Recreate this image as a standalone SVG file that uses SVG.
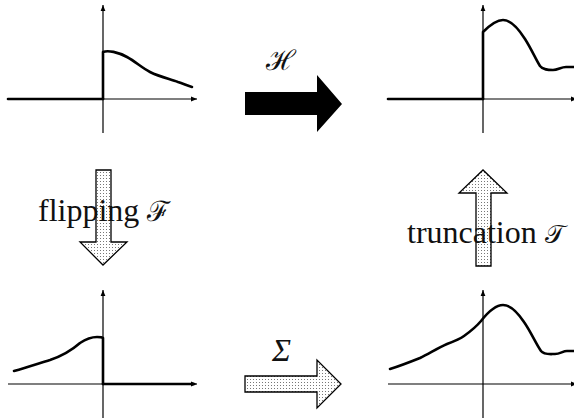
<svg xmlns="http://www.w3.org/2000/svg" width="574" height="420" viewBox="0 0 574 420">
<style>
.axis{stroke:#000;stroke-width:1.2;fill:none}
.thick{stroke:#000;stroke-width:2.6;fill:none;stroke-linejoin:round;stroke-linecap:round}
.curve{stroke:#000;stroke-width:2.6;fill:none;stroke-linejoin:round;stroke-linecap:round}
.dotted{fill:url(#dots);stroke:#000;stroke-width:1.3;stroke-linejoin:miter}
.lbl{font-family:"Liberation Serif","Times New Roman",serif;font-size:32px;fill:#111}
.math{font-family:"DejaVu Serif","Liberation Serif",serif;font-style:normal;fill:#111}
</style>
<defs>
<marker id="ah" viewBox="0 0 10 10" refX="10" refY="5" markerWidth="6" markerHeight="6" markerUnits="userSpaceOnUse" orient="auto">
<path d="M0,1 L10,5 L0,9 Z" fill="#000"/>
</marker>
<pattern id="dots" width="3" height="3" patternUnits="userSpaceOnUse">
<rect width="3" height="3" fill="#fff"/>
<rect x="1" y="1" width="1" height="1" fill="#777"/>
</pattern>
</defs>

<g id="plot-top-left">
<line class="axis" x1="8" y1="99" x2="197" y2="99" marker-end="url(#ah)"/>
<line class="axis" x1="103" y1="133" x2="103" y2="5" marker-end="url(#ah)"/>
<line class="thick" x1="8" y1="99" x2="103" y2="99"/>
<path class="curve" d="M103,99 V52 C108,50 118,52 127,57 C136,62 142,68 150,72 C160,77 170,79 178,82 C184,84 188,86 192,87"/>
</g>

<g id="plot-top-right">
<line class="axis" x1="388" y1="99" x2="577" y2="99" marker-end="url(#ah)"/>
<line class="axis" x1="483" y1="133" x2="483" y2="5" marker-end="url(#ah)"/>
<line class="thick" x1="388" y1="99" x2="483" y2="99"/>
<path class="curve" d="M483,99 V32 C489,26 496,20 503,20 C511,20 518,28 525,39 C532,50 536,60 540,66 C543,70 548,70 553,70 C558,70 561,67 566,67 C569,67 572,67 574,67"/>
</g>

<g id="plot-bottom-left">
<line class="axis" x1="8" y1="384" x2="197" y2="384" marker-end="url(#ah)"/>
<line class="axis" x1="103" y1="418" x2="103" y2="290" marker-end="url(#ah)"/>
<line class="thick" x1="103" y1="384" x2="194" y2="384"/>
<path class="curve" d="M14,371 C28,367 40,363 50,360 C62,356 72,350 80,343 C86,339 92,337 97,337 C100,337 102,337 103,338 V384"/>
</g>

<g id="plot-bottom-right">
<line class="axis" x1="388" y1="384" x2="577" y2="384" marker-end="url(#ah)"/>
<line class="axis" x1="483" y1="418" x2="483" y2="290" marker-end="url(#ah)"/>
<path class="curve" d="M390,369 C400,366 410,362 420,358 C430,353 438,348 447,344 C455,341 460,339 464,336 C471,331 476,327 481,321 C488,312 495,305 503,305 C511,305 518,313 524,322 C531,332 536,344 541,351 C544,355 550,354 555,354 C560,354 563,351 567,351 C570,351 572,351 574,351"/>
</g>

<g id="connectors">
<g id="arrow-H">
<path d="M245,92 H317 V75 L342,104 L317,132 V115 H245 Z" fill="#000"/>
<text class="math" x="266" y="70" font-size="28">ℋ</text>
</g>
<g id="arrow-flipping">
<path class="dotted" d="M96,170 H111 V242 H127 L103,265 L80,242 H96 Z"/>
<text class="lbl" x="38" y="221">flipping <tspan class="math" font-size="28">ℱ</tspan></text>
</g>
<g id="arrow-truncation">
<path class="dotted" d="M476,266 V193 H459 L483,170 L507,193 H491 V266 Z"/>
<text class="lbl" x="407" y="243">truncation <tspan class="math" font-size="26">𝒯</tspan></text>
</g>
<g id="arrow-sigma">
<path class="dotted" d="M245,376 H317 V360 L341,384 L317,408 V392 H245 Z"/>
<text class="lbl" x="272" y="361" font-size="28" font-style="italic">Σ</text>
</g>
</g>
</svg>
